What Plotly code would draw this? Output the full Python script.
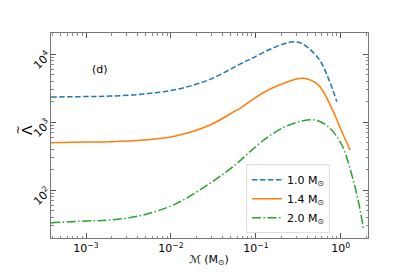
import plotly.graph_objects as go

# Blue: 1.0 Msun
x_10 = [0.000387, 0.001, 0.00192, 0.00473, 0.0117, 0.0289, 0.0652, 0.0895, 0.140, 0.221, 0.277, 0.348, 0.545, 0.714, 0.897]
y_10 = [2333, 2371, 2410, 2582, 3027, 4246, 7129, 8650, 11460, 14350, 15170, 14350, 8650, 4395, 1991]
# Orange: 1.4 Msun
x_14 = [0.000387, 0.001, 0.00192, 0.00473, 0.0117, 0.0289, 0.0569, 0.0652, 0.0895, 0.140, 0.221, 0.362, 0.545, 0.783, 1.028, 1.288]
y_14 = [497, 508, 513, 543, 630, 904, 1452, 1589, 2109, 2958, 3784, 4395, 3499, 1589, 719, 387]
# Green: 2.0 Msun
x_20 = [0.000387, 0.001, 0.00192, 0.00473, 0.0117, 0.0289, 0.0569, 0.0895, 0.140, 0.221, 0.348, 0.498, 0.714, 1.028, 1.349, 1.611, 1.845]
y_20 = [33.0, 35.0, 36.2, 42.9, 63.7, 126, 233, 387, 608, 853, 1035, 1069, 853, 459, 166, 67.3, 27.4]

x_tickvals = [1e-3, 1e-2, 1e-1, 1e0]
x_ticktext = ["10<sup>−3</sup>", "10<sup>−2</sup>", "10<sup>−1</sup>", "10<sup>0</sup>"]
y_tickvals = [1e2, 1e3, 1e4]
y_ticktext = ["10<sup>2</sup>", "10<sup>3</sup>", "10<sup>4</sup>"]
minor_vals = [m * 10.0 ** d for d in range(-4, 5) for m in range(2, 10)]

font = "DejaVu Sans"
fig = go.Figure()
fig.add_trace(go.Scatter(x=x_10, y=y_10, mode="lines", name="1.0 M<sub>⊙</sub>",
                         line=dict(color="#1f77b4", width=1.5, dash="5.5px,2.5px", shape="spline", smoothing=1.0)))
fig.add_trace(go.Scatter(x=x_14, y=y_14, mode="lines", name="1.4 M<sub>⊙</sub>",
                         line=dict(color="#ff7f0e", width=1.5, shape="spline", smoothing=1.0)))
fig.add_trace(go.Scatter(x=x_20, y=y_20, mode="lines", name="2.0 M<sub>⊙</sub>",
                         line=dict(color="#2ca02c", width=1.5, dash="9px,2.5px,1.5px,2.5px", shape="spline", smoothing=1.0)))

axis_common = dict(showgrid=False, zeroline=False, showline=True, linecolor="#777", linewidth=1,
                   mirror="ticks", ticks="inside", ticklen=5, tickcolor="#555", automargin=False,
                   minor=dict(ticks="inside", ticklen=2.5, tickcolor="#888", tickvals=minor_vals, showgrid=False),
                   tickfont=dict(family=font, size=11, color="black"))
fig.update_xaxes(type="log", range=[-3.412, 0.32], tickvals=x_tickvals, ticktext=x_ticktext, **axis_common)
fig.update_yaxes(type="log", range=[1.294, 4.31], tickvals=y_tickvals, ticktext=y_ticktext, tickangle=-45,
                 **axis_common)
# x-axis title
fig.add_annotation(x=0.498, y=-0.107, xref="paper", yref="paper", yanchor="middle", text="ℳ (M<sub>⊙</sub>)",
                   showarrow=False, font=dict(family=font, size=11, color="black"))
# y-axis title: Lambda with tilde above (drawn rotated)
fig.add_annotation(x=-0.107, y=0.527, xref="paper", yref="paper", text="Λ", textangle=-90, showarrow=False,
                   font=dict(family=font, size=14, color="black"))
fig.add_annotation(x=-0.129, y=0.527, xref="paper", yref="paper", text="~", textangle=-90, showarrow=False,
                   font=dict(family=font, size=11, color="black"))
fig.add_annotation(x=0.123, y=0.863, xref="paper", yref="paper", text="(d)", showarrow=False,
                   font=dict(family=font, size=11, color="black"))
# page body has an 8px margin, so the figure is 8px smaller and margins offset accordingly
fig.update_layout(width=401, height=265, margin=dict(l=43, r=41, t=25, b=35, autoexpand=False),
                  plot_bgcolor="white", paper_bgcolor="white",
                  legend=dict(x=0.615, y=0.36, xanchor="left", yanchor="top", bgcolor="white",
                              bordercolor="#ddd", borderwidth=1, font=dict(family=font, size=11, color="black"),
                              tracegroupgap=0, itemwidth=30),
                  showlegend=True)
fig.write_html("out.html")
